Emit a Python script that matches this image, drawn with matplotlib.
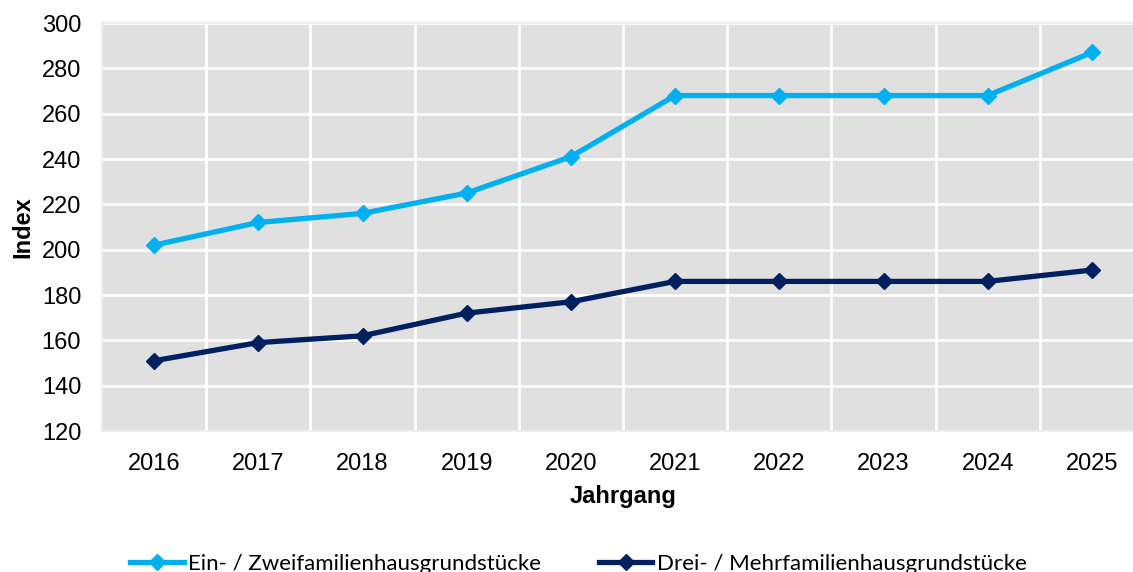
import numpy as np
import matplotlib.pyplot as plt
from matplotlib.ticker import FixedLocator

# Daten
jahre = ['2016', '2017', '2018', '2019', '2020', '2021', '2022', '2023', '2024', '2025']
ein_zwei = [202, 212, 216, 225, 241, 268, 268, 268, 268, 287]
drei_mehr = [151, 159, 162, 172, 177, 186, 186, 186, 186, 191]
y_ticks = [120, 140, 160, 180, 200, 220, 240, 260, 280, 300]

plt.rcParams['font.family'] = ['Liberation Sans', 'DejaVu Sans']

fig = plt.figure(figsize=(11.33, 5.72), dpi=100)
# Plotbereich: links 102 px, rechts ueber den Bildrand hinaus (1144 px), oben 23 px, unten 431 px
ax = fig.add_axes([102 / 1133, 1 - 431 / 572, (1144 - 102) / 1133, (431 - 23) / 572])
ax.set_facecolor('#e0e0e0')

x = np.arange(len(jahre))
ax.plot(x, ein_zwei, color='#00b0f0', lw=3.8, marker='D', ms=8.5,
        label='Ein- / Zweifamilienhausgrundstücke', zorder=3)
ax.plot(x, drei_mehr, color='#002060', lw=3.8, marker='D', ms=8.5,
        label='Drei- / Mehrfamilienhausgrundstücke', zorder=3)

ax.set_xlim(-0.5, len(jahre) - 0.5)
ax.set_ylim(120, 300)
ax.set_xticks(x)
ax.set_xticklabels(jahre)
ax.set_yticks(y_ticks)
ax.xaxis.set_minor_locator(FixedLocator(np.arange(0.5, len(jahre) - 0.5, 1)))
ax.tick_params(axis='both', which='both', length=0, labelsize=17)
ax.tick_params(axis='x', pad=16)
ax.tick_params(axis='y', pad=15)

ax.grid(True, which='major', axis='y', color='white', lw=2)
ax.grid(True, which='minor', axis='x', color='white', lw=2)
ax.set_axisbelow(True)
for s in ax.spines.values():
    s.set_color('#eeeeee')
    s.set_linewidth(1.5)

ax.set_xlabel('Jahrgang', fontsize=17, fontweight='bold', labelpad=7)
ax.set_ylabel('Index', fontsize=17, fontweight='bold', labelpad=5)

leg = fig.legend(loc='center', bbox_to_anchor=(0.5 + 12 / 1133, 1 - 564 / 572), ncol=2,
                 frameon=False, prop={'family': 'Lato', 'size': 16},
                 handlelength=2.4, handletextpad=0.2, columnspacing=2.6)

fig.savefig('out.png', dpi=100)
